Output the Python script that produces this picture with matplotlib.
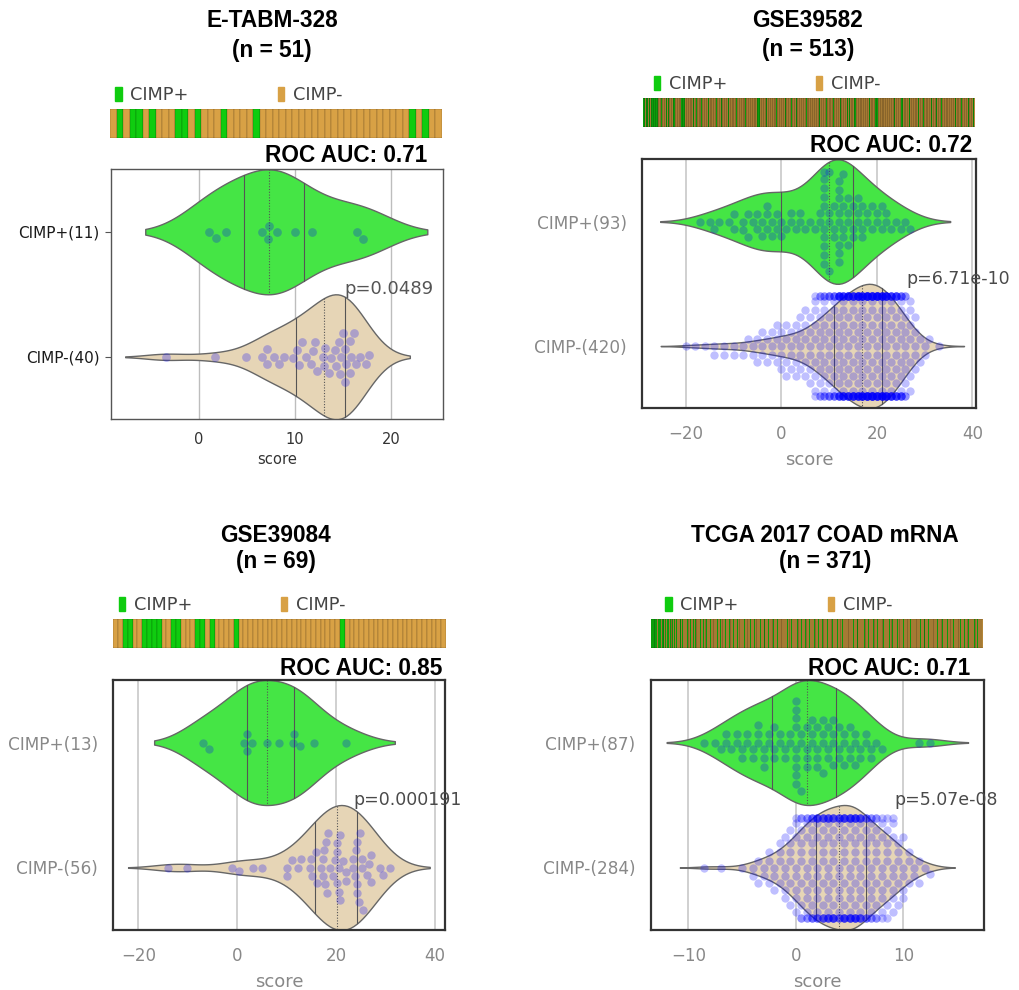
import warnings
import numpy as np
import pandas as pd
import matplotlib
matplotlib.use("Agg")
import matplotlib.pyplot as plt
from matplotlib.colors import ListedColormap
from matplotlib.collections import PolyCollection
from matplotlib.patches import Patch
import seaborn as sns

warnings.filterwarnings("ignore")

# ---------------- data ----------------
datasets = ["E-TABM-328", "GSE39582", "GSE39084", "TCGA 2017 COAD mRNA"]
n_samples = [51, 513, 69, 371]
roc_auc = [0.71, 0.72, 0.85, 0.71]
p_values = ["0.0489", "6.71e-10", "0.000191", "5.07e-08"]

# E-TABM-328 scores (one value per sample)
etabm_pos = [1.1, 1.8, 2.8, 6.6, 7.2, 7.3, 8.1, 10.0, 11.8, 16.5, 17.1]
etabm_neg = [-3.4, 1.7, 4.9, 6.6, 7.1, 7.1, 7.8, 8.3, 8.9, 9.8,
             10.2, 10.4, 10.7, 11.2, 11.7, 11.9, 12.1, 12.3, 12.9, 13.1,
             13.0, 13.5, 13.8, 14.2, 14.3, 14.6, 14.7, 14.8, 15.0, 15.2,
             15.2, 15.3, 15.7, 15.7, 15.8, 16.1, 16.3, 16.8, 17.4, 17.7]

# GSE39084 scores (one value per sample)
gse39084_pos = [-6.9, -5.7, 1.4, 1.9, 2.0, 3.1, 6.0, 8.5, 11.2, 11.5, 12.7, 15.5, 22.0]
gse39084_neg = [-14.0, -10.1, -1.1, 0.4, 3.2, 5.1, 10.0, 10.0, 11.0, 12.4,
                12.9, 14.7, 14.9, 15.1, 15.9, 16.1, 16.9, 17.4, 17.4, 17.6,
                17.8, 18.0, 18.1, 18.4, 18.8, 19.4, 19.8, 20.1, 20.2, 20.2,
                20.5, 20.7, 20.8, 20.8, 21.5, 22.0, 22.1, 23.4, 23.5, 23.8,
                24.0, 24.3, 24.3, 24.3, 24.7, 24.8, 25.2, 25.2, 25.4, 26.2,
                26.7, 27.0, 27.0, 28.9, 29.6, 30.9]

# GSE39582 scores, read as swarm columns (score, number of samples)
gse39582_pos_scores = [-17, -15, -14, -13, -11, -10, -8, -7, -6, -5, -4, -3, -2, -1,
                       0, 1, 2, 3, 4, 5, 6, 7, 8, 9,
                       10, 11, 12, 13, 14,
                       15, 16, 17, 18, 19, 20, 21, 22, 23, 24, 25, 26, 27]
gse39582_pos_counts = [1, 1, 1, 1, 1, 2, 2, 2, 1, 2, 2, 3, 2, 2,
                       2, 1, 2, 1, 2, 1, 1, 1, 2, 10,
                       4, 3, 8, 4, 4,
                       3, 3, 3, 2, 2, 2, 2, 2, 1, 1, 1, 1, 1]
gse39582_neg_scores = [-20, -18, -16, -14, -12, -10, -8, -7, -6, -5, -4, -3, -2, -1, 0, 1, 2, 3, 4, 5, 6,
                       7, 8, 9, 10, 11,
                       12, 13, 14, 15, 16, 17,
                       18, 19, 20, 21,
                       22, 23, 24, 25, 26, 27, 28, 29, 30, 31, 33]
gse39582_neg_counts = [1, 1, 1, 2, 2, 2, 2, 1, 2, 2, 3, 2, 3, 3, 4, 4, 4, 4, 5, 5, 6,
                       9, 10, 11, 12, 13,
                       17, 18, 19, 20, 21, 22,
                       24, 24, 23, 22,
                       20, 18, 16, 14, 10, 7, 5, 2, 2, 1, 1]

# TCGA 2017 COAD mRNA scores, read as swarm columns (score, number of samples)
tcga_pos_scores = [-8.5, -7.5, -7, -6.5, -6, -5.5, -5, -4.5, -4, -3.5, -3, -2.5,
                   -2, -1.5, -1, -0.5, 0, 0.5,
                   1, 1.5, 2, 2.5, 3, 3.5,
                   4, 4.5, 5, 5.5, 6, 6.5, 7, 7.5, 8, 11.5, 12.5]
tcga_pos_counts = [1, 1, 1, 2, 1, 2, 2, 2, 2, 3, 3, 2,
                   3, 2, 2, 2, 9, 3,
                   4, 3, 4, 4, 3, 4,
                   3, 3, 3, 3, 2, 2, 2, 1, 1, 1, 1]
tcga_neg_scores = [-8.5, -7, -5, -4, -3.5, -3, -2.5, -2, -1.5, -1, -0.5, 0, 0.5, 1, 1.5,
                   2, 2.5, 3, 3.5, 4,
                   4.5, 5, 5.5, 6, 6.5,
                   7, 7.5, 8, 8.5, 9, 9.5, 10, 10.5, 11, 11.5, 12, 12.5]
tcga_neg_counts = [1, 1, 1, 2, 2, 2, 3, 3, 4, 5, 6, 8, 10, 11, 12,
                   14, 14, 15, 15, 14,
                   16, 17, 16, 15, 12,
                   11, 10, 9, 8, 8, 5, 5, 3, 2, 2, 1, 1]

# sample strips: positions (sample order) of the CIMP+ samples
etabm_strip_pos = [1, 3, 4, 6, 10, 11, 13, 17, 22, 46, 48]
gse39582_strip_pos = [0, 1, 2, 4, 6, 7, 9, 10, 12, 14, 15, 17, 18, 20, 21, 24, 27, 28, 30, 33,
                      35, 38, 41, 44, 46, 48, 50, 53, 58, 59, 60, 61, 62, 63, 70, 77, 82, 90, 95, 100,
                      106, 113, 120, 131, 138, 144, 146, 152, 158, 166, 176, 177, 178, 179, 189, 190,
                      191, 206, 219, 229, 236, 239, 252, 262, 272, 283, 294, 304, 315, 318, 326, 328,
                      338, 349, 359, 360, 361, 362, 375, 388, 399, 400, 411, 425, 433, 445, 453, 461,
                      471, 482, 492, 502, 510]
gse39084_strip_pos = [2, 3, 6, 7, 8, 9, 12, 13, 17, 18, 20, 25, 47]
tcga_strip_pos = [0, 1, 2, 3, 5, 6, 8, 9, 10, 12, 13, 14, 16, 18, 19, 21, 23, 24, 26, 28,
                  32, 35, 40, 44, 47, 49, 55, 58, 62, 66, 70, 74, 77, 83, 87, 92, 96, 99, 104, 111,
                  115, 122, 126, 131, 137, 141, 146, 152, 157, 163, 168, 172, 177, 182, 187, 191,
                  197, 203, 208, 214, 221, 226, 230, 238, 243, 248, 253, 260, 266, 270, 275, 282,
                  290, 297, 301, 305, 310, 316, 320, 326, 331, 338, 346, 350, 355, 361, 365]

groups = [
    (etabm_pos, etabm_neg),
    (np.repeat(gse39582_pos_scores, gse39582_pos_counts), np.repeat(gse39582_neg_scores, gse39582_neg_counts)),
    (gse39084_pos, gse39084_neg),
    (np.repeat(tcga_pos_scores, tcga_pos_counts), np.repeat(tcga_neg_scores, tcga_neg_counts)),
]
strips = [etabm_strip_pos, gse39582_strip_pos, gse39084_strip_pos, tcga_strip_pos]

# ---------------- layout (pixels of the 1020x990 canvas) ----------------
W, H = 1020, 990
LAYOUT = [
    dict(cx=272, t1=27.3, t2=56.5, strip=(110, 109.3, 441.7, 137.7), leg_dx=0,
         box=(110.7, 169.3, 442.7, 419.3), xlim=(-9.15, 25.36), xticks=[0, 10, 20],
         auc=(427, 161.7), p_x=15.1, plain=True),
    dict(cx=808, t1=27.3, t2=56, strip=(643.3, 98.3, 975, 126.7), leg_dx=5,
         box=(642.3, 159.3, 975.7, 408.3), xlim=(-29.1, 40.7), xticks=[-20, 0, 20, 40],
         auc=(972.7, 151.7), p_x=26.1, plain=False),
    dict(cx=276, t1=541.7, t2=568.3, strip=(113.3, 619.3, 446, 647.7), leg_dx=0,
         box=(113.3, 680, 445.3, 930), xlim=(-25.05, 42.1), xticks=[-20, 0, 20, 40],
         auc=(442.7, 675), p_x=23.5, plain=False),
    dict(cx=825, t1=541.7, t2=568.3, strip=(651, 619.3, 982.7, 647.7), leg_dx=9,
         box=(650.7, 680, 984, 930), xlim=(-13.5, 17.5), xticks=[-10, 0, 10],
         auc=(970, 675), p_x=9.13, plain=False),
]

GREEN = "#0fcc0f"
TAN = "#d8a145"
VGREEN = "#45e545"
VTAN = "#e6d5b6"

plt.rcParams["font.family"] = ["DejaVu Sans"]
TITLE_FONT = ["Liberation Sans", "DejaVu Sans"]


def px_rect(x0, y0, x1, y1):
    return [x0 / W, 1 - y1 / H, (x1 - x0) / W, (y1 - y0) / H]


def draw_quartiles(ax, values, center):
    """Quartile lines (solid) and median (dotted) clipped to the violin outline."""
    body = None
    for coll in ax.collections:
        if isinstance(coll, PolyCollection) and coll.get_paths():
            v = coll.get_paths()[0].vertices
            if abs(np.mean(v[:, 1]) - center) < 0.25:
                body = v
    if body is None:
        return
    upper = body[body[:, 1] <= center]
    upper = upper[np.argsort(upper[:, 0])]
    for q, ls in zip(np.percentile(values, [25, 50, 75]), ["-", (0, (1, 1.5)), "-"]):
        hw = center - np.interp(q, upper[:, 0], upper[:, 1])
        ax.plot([q, q], [center - hw, center + hw], color="#555555", linewidth=0.8,
                linestyle=ls, zorder=2)


fig = plt.figure(figsize=(W / 100, H / 100), dpi=100)

for i, lay in enumerate(LAYOUT):
    pos, neg = groups[i]
    n = n_samples[i]

    # title
    fig.text(lay["cx"] / W, 1 - lay["t1"] / H, datasets[i], ha="center", va="baseline",
             fontsize=16.3, fontweight="bold", family=TITLE_FONT)
    fig.text(lay["cx"] / W, 1 - lay["t2"] / H, f"(n = {n})", ha="center", va="baseline",
             fontsize=16.3, fontweight="bold", family=TITLE_FONT)

    # sample strip (thin dark cell borders, like the original heat strip)
    sax = fig.add_axes(px_rect(*lay["strip"]))
    status = np.zeros(n)
    status[strips[i]] = 1
    sax.pcolormesh(np.arange(n + 1), [0, 1], status[None, :], cmap=ListedColormap([TAN, GREEN]),
                   vmin=0, vmax=1, edgecolors="black", linewidth=0.12, antialiased=True)
    sax.set_xlim(0, n)
    sax.set_ylim(0, 1)
    sax.axis("off")
    dx = lay["leg_dx"] / (lay["strip"][2] - lay["strip"][0])
    sax.legend(handles=[Patch(color=GREEN, label="CIMP+"), Patch(color=TAN, label="CIMP-")],
               ncol=2, loc="lower left", bbox_to_anchor=(dx, 1.0), frameon=False,
               handlelength=0.35, handleheight=0.85, handletextpad=0.5, columnspacing=5.0,
               borderpad=0, borderaxespad=0.3, fontsize=12.8, labelcolor="#444444")

    # violin + swarm
    ax = fig.add_axes(px_rect(*lay["box"]))
    lab_pos, lab_neg = f"CIMP+({len(pos)})", f"CIMP-({len(neg)})"
    df = pd.DataFrame({"score": np.concatenate([pos, neg]).astype(float),
                       "group": [lab_pos] * len(pos) + [lab_neg] * len(neg)})
    order = [lab_pos, lab_neg]
    sns.violinplot(data=df, x="score", y="group", hue="group", order=order, hue_order=order,
                   palette={lab_pos: VGREEN, lab_neg: VTAN}, legend=False, orient="h",
                   inner=None, density_norm="area", width=1.0, linewidth=1.0,
                   linecolor="#666666", saturation=1, ax=ax)
    draw_quartiles(ax, pos, 0)
    draw_quartiles(ax, neg, 1)
    ax.set_xlim(*lay["xlim"])
    ax.set_ylim(1.5, -0.5)
    sns.swarmplot(data=df, x="score", y="group", order=order, color="blue", alpha=0.25,
                  size=6.3 if lay["plain"] else 6.0, orient="h", ax=ax, zorder=3)
    ax.set_xlim(*lay["xlim"])
    ax.set_ylim(1.5, -0.5)
    ax.set_xticks(lay["xticks"])
    ax.set_ylabel("")
    ax.set_axisbelow(True)

    if lay["plain"]:
        ax.grid(axis="x", color="#bdbdbd", linewidth=1.0)
        for sp in ax.spines.values():
            sp.set_color("#555555")
            sp.set_linewidth(1.0)
        ax.tick_params(axis="y", length=4, width=0.8, color="#555555", pad=4,
                       labelsize=11, labelcolor="#1a1a1a")
        ax.tick_params(axis="x", length=0, pad=9, labelsize=10.5, labelcolor="#333333")
        ax.set_xlabel("score", fontsize=10.6, color="#333333", labelpad=4)
    else:
        ax.grid(axis="x", color="#c8c8c8", linewidth=1.2)
        for sp in ax.spines.values():
            sp.set_color("#333333")
            sp.set_linewidth(1.6)
        ax.tick_params(axis="y", length=0, pad=11, labelsize=12.2, labelcolor="#888888")
        ax.tick_params(axis="x", length=0, pad=12, labelsize=12, labelcolor="#888888")
        ax.set_xlabel("score", fontsize=13, color="#888888", labelpad=6)

    ax.text(lay["p_x"], 0.5, f"p={p_values[i]}", ha="left", va="baseline",
            fontsize=13 if lay["plain"] else 12.5, color="#555555" if lay["plain"] else "#4a4a4a")

    # ROC AUC label
    fig.text(lay["auc"][0] / W, 1 - lay["auc"][1] / H, f"ROC AUC: {roc_auc[i]:.2f}",
             ha="right", va="baseline", fontsize=16.3, fontweight="bold", family=TITLE_FONT)

fig.savefig("out.png", dpi=100)
